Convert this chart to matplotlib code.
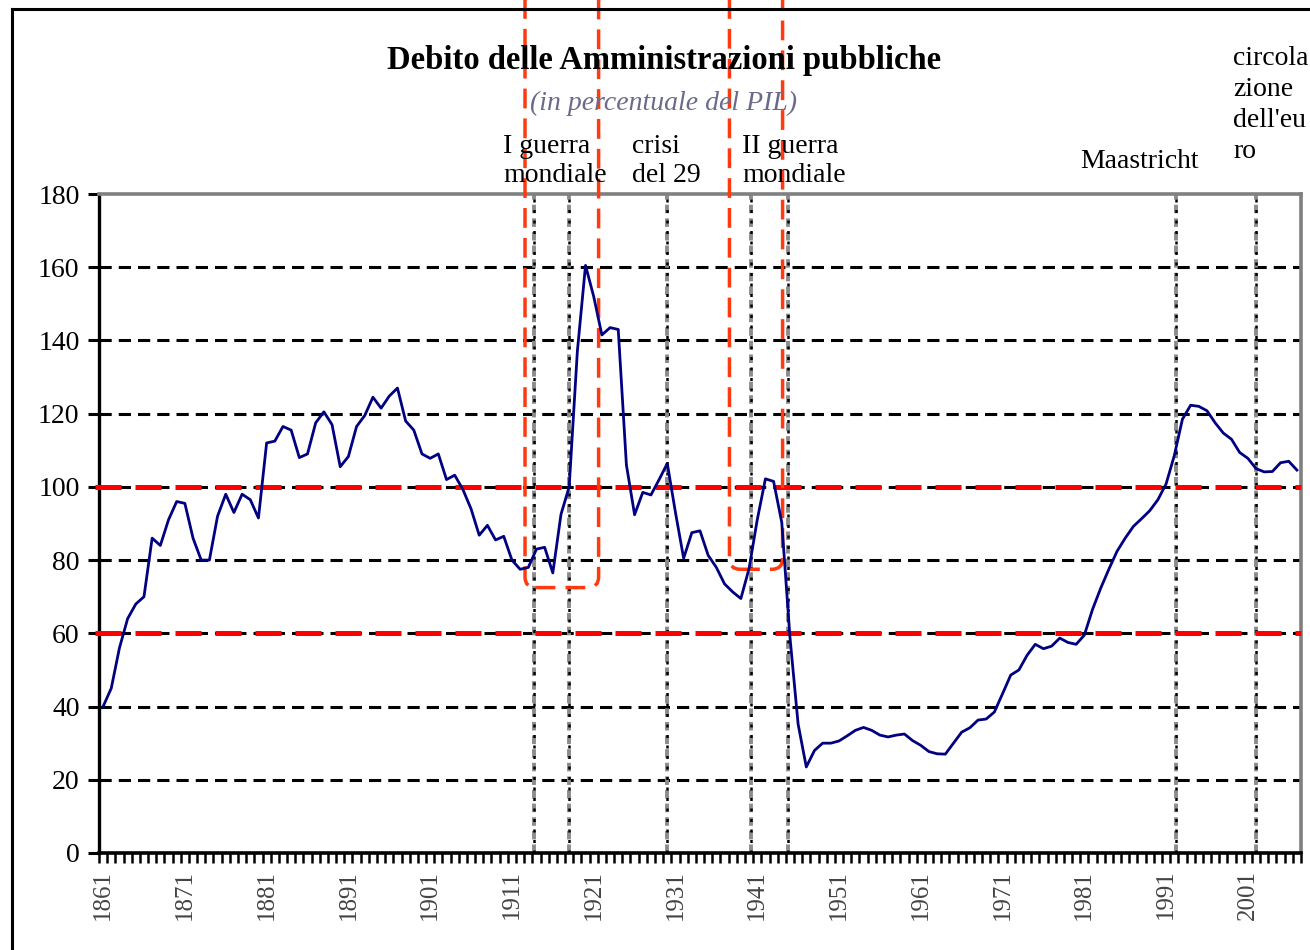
import numpy as np
import matplotlib.pyplot as plt
from matplotlib.patches import FancyBboxPatch
from matplotlib.lines import Line2D

plt.rcParams['font.family'] = ['Liberation Serif', 'DejaVu Serif']

# dati (debito / PIL, %)
anni = list(range(1861, 2008))
debito = [40, 45, 56, 64, 68, 70, 86, 84, 91, 96,
          95.5, 86, 80, 80, 92, 98, 93, 98, 96.5, 91.5,
          112, 112.5, 116.5, 115.5, 108, 109, 117.5, 120.5, 117, 105.5,
          108.3, 116.5, 119.5, 124.5, 121.5, 124.8, 127, 118, 115.5, 109,
          107.8, 109, 102, 103.2, 99.3, 94, 86.8, 89.5, 85.5, 86.5,
          80, 77.5, 78, 83, 83.5, 76.5, 92.5, 100, 137, 160.5,
          152, 141.5, 143.5, 143, 106, 92.4, 98.5, 97.8, 102, 106.4,
          93, 80.5, 87.5, 88, 81.3, 78, 73.5, 71.3, 69.5, 77.7,
          91, 102.2, 101.5, 90.3, 59, 35.2, 23.5, 28, 30, 30,
          30.6, 32, 33.5, 34.3, 33.5, 32.2, 31.7, 32.2, 32.5, 30.7,
          29.4, 27.7, 27.1, 27, 30, 33, 34.2, 36.3, 36.6, 38.5,
          43.5, 48.6, 50, 54, 57, 55.8, 56.5, 58.7, 57.5, 57,
          59.5, 66.5, 72.3, 77.5, 82.4, 86, 89.2, 91.3, 93.5, 96.5,
          100.8, 108.5, 118.5, 122.3, 122, 120.8, 117.5, 114.7, 113, 109.4,
          107.8, 105, 104.1, 104.2, 106.6, 107, 104.6]

tick_anni = list(range(1861, 2002, 10))
soglie = [60, 100]
eventi = [1913.7, 1918, 1930, 1940.2, 1944.8, 1992.2, 2002]
riquadri = [(1912.6, 1921.6, 72.5), (1937.6, 1944.1, 77.5)]  # x0, x1, fondo

W, H = 1310, 950
fig = plt.figure(figsize=(W / 100, H / 100), dpi=100, facecolor='white')
ax = fig.add_axes([99 / W, 1 - 853 / H, 1202 / W, 659 / H])

# griglia nera tratteggiata
for v in range(20, 180, 20):
    ax.axhline(v, color='black', lw=2.2, ls=(0, (4, 2.3)), zorder=1)

# linee verticali degli eventi
for e in eventi:
    ax.axvline(e, color='#8c8c8c', lw=2.8, ls=(0, (2.2, 1.3)), zorder=2)
    ax.axvline(e, color='black', lw=1.8, ls=(0, (1.2, 3)), zorder=2)

# soglie 60% e 100%
for s in soglie:
    ax.plot([1860.0, 2007.5], [s, s], color='#ff0000', lw=3.6,
            ls=(0, (5.2, 2.8)), clip_on=False, zorder=3)

# riquadri rossi delle guerre
for x0, x1, y0 in riquadri:
    box = FancyBboxPatch((x0, y0), x1 - x0, 220,
                         boxstyle='round,pad=0,rounding_size=1.3',
                         mutation_aspect=2.23, fill=False, ec='#ff3a10',
                         lw=2.5, ls=(0, (5.7, 2.9)), clip_on=False, zorder=4)
    ax.add_patch(box)

ax.plot(anni, debito, color='#000080', lw=2.0, zorder=5)

ax.set_xlim(1860.5, 2007.5)
ax.set_ylim(0, 180)

ax.spines['left'].set_linewidth(2.4)
ax.spines['bottom'].set_linewidth(2.6)
ax.spines['top'].set_color('#808080')
ax.spines['right'].set_color('#808080')
ax.spines['top'].set_linewidth(2.6)
ax.spines['right'].set_linewidth(2.6)

ax.set_yticks(range(0, 181, 20))
ax.tick_params(axis='y', direction='out', length=8, width=2.2,
               labelsize=20, pad=6)
ax.set_xticks(tick_anni)
ax.set_xticklabels([str(a) for a in tick_anni], rotation=90)
ax.tick_params(axis='x', which='major', length=0, pad=12,
               labelsize=18, labelcolor='#444444')
ax.set_xticks(np.arange(1860.5, 2008, 1), minor=True)
ax.tick_params(axis='x', which='minor', direction='out', length=7.5, width=1.8)

# titoli
fig.text(664 / W, 1 - 60 / H, 'Debito delle Amministrazioni pubbliche',
         ha='center', va='center', fontsize=23.5, fontweight='bold')
fig.text(663 / W, 1 - 103 / H, '(in percentuale del PIL)',
         ha='center', va='center', fontsize=20, style='italic', color='#6a6a8a')

# etichette degli eventi
fig.text(503 / W, 1 - 161 / H, 'I guerra\nmondiale', ha='left', va='center',
         fontsize=20, linespacing=1.25)
fig.text(632 / W, 1 - 161 / H, 'crisi\ndel 29', ha='left', va='center',
         fontsize=20, linespacing=1.25)
fig.text(742 / W, 1 - 161 / H, 'II guerra\nmondiale', ha='left', va='center',
         fontsize=20, linespacing=1.25)
fig.text(1080 / W, 1 - 162 / H, 'Maastricht', ha='left', va='center',
         fontsize=20)
fig.text(1233 / W, 1 - 105 / H, "circola\nzione\ndell'eu\nro", ha='left',
         va='center', fontsize=20, linespacing=1.3)

# cornice
fig.add_artist(Line2D([12 / W, 12 / W], [0, 1 - 9 / H], color='black', lw=2.2))
fig.add_artist(Line2D([12 / W, 1], [1 - 9 / H, 1 - 9 / H], color='black', lw=2.2))

fig.savefig('out.png', dpi=100, facecolor='white')
